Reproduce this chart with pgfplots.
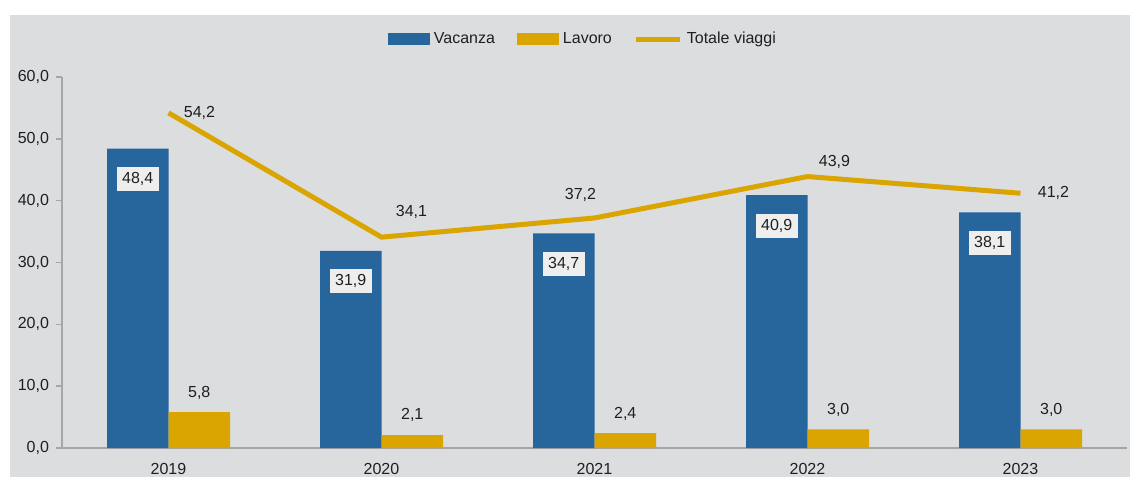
\documentclass[border=0pt]{standalone}
\usepackage{fontspec}
\setmainfont{Liberation Sans}
\usepackage{pgfplots}
\pgfplotsset{compat=1.18}
\usepackage{pgfplotstable}
\definecolor{vac}{HTML}{27659D}
\definecolor{lav}{HTML}{DAA500}
\definecolor{bg}{HTML}{DCDDDF}
\definecolor{axl}{HTML}{A6A6A6}
\definecolor{lbl}{HTML}{EEEEEE}
\definecolor{txt}{HTML}{1F1F1F}

\pgfplotstableread{
x y
0 48.4
1 31.9
2 34.7
3 40.9
4 38.1
}\vacanza
\pgfplotstableread{
x y
0 5.8
1 2.1
2 2.4
3 3.0
4 3.0
}\lavoro
\pgfplotstableread{
x y dx dy
0 54.2 15.5 0
1 34.1 15 12.5
2 37.2 -7 11.5
3 43.9 13.5 7.5
4 41.2 16.5 0
}\totale

\begin{document}
\begin{tikzpicture}[font=\fontsize{8}{9.6}\selectfont, text=txt]
\useasboundingbox (0,0) rectangle (565pt,238.5pt);
\fill[bg] (5pt,0) rectangle (565pt,231pt);
\begin{axis}[
  at={(31pt,14.5pt)}, anchor=south west,
  scale only axis, width=532.5pt, height=185.5pt,
  xmin=-0.5, xmax=4.5, ymin=0, ymax=60,
  axis x line=bottom, axis y line=left,
  axis line style={axl, line width=0.75pt, -},
  xtick={0,1,2,3,4}, xticklabels={2019,2020,2021,2022,2023},
  x tick style={draw=none},
  ytick={0,10,20,30,40,50,60},
  tick align=outside, major tick length=3pt,
  y tick style={axl, line width=0.75pt},
  xticklabel style={yshift=-1pt},
  /pgf/number format/use comma,
  /pgf/number format/fixed,
  /pgf/number format/fixed zerofill,
  /pgf/number format/precision=1,
  /pgf/number format/assume math mode=true,
  legend style={at={(0.49,1)}, anchor=center, yshift=19pt,
    draw=none, fill=none, legend columns=3,
    /tikz/every even column/.append style={column sep=9pt},
    font=\fontsize{8}{9.6}\selectfont},
  clip=false,
]
\addplot[ybar, bar width=30.75pt, bar shift=-15.375pt, fill=vac, draw=none,
  point meta=y, nodes near coords,
  every node near coord/.append style={fill=lbl, anchor=north, xshift=-15.375pt, yshift=-9pt, inner sep=2.75pt, text=txt},
  legend image code/.code={\fill[vac] (0pt,-2.8pt) rectangle (21pt,2.8pt);}]
  table[x=x,y=y] {\vacanza};
\addlegendentry{Vacanza}
\addplot[ybar, bar width=30.75pt, bar shift=15.375pt, fill=lav, draw=none,
  point meta=y, nodes near coords,
  every node near coord/.append style={anchor=south, xshift=15.375pt, yshift=3pt, text=txt},
  legend image code/.code={\fill[lav] (0pt,-2.8pt) rectangle (21pt,2.8pt);}]
  table[x=x,y=y] {\lavoro};
\addlegendentry{Lavoro}
\addplot[sharp plot, lav, line width=2.5pt, mark=none,
  point meta=y, nodes near coords,
  visualization depends on={\thisrow{dx} \as \dx},
  visualization depends on={\thisrow{dy} \as \dy},
  every node near coord/.append style={anchor=center, xshift=\dx pt, yshift=\dy pt, text=txt},
  legend image code/.code={\draw[lav, line width=2.5pt] (0pt,0pt) -- (22pt,0pt);}]
  table[x=x,y=y] {\totale};
\addlegendentry{Totale viaggi}
\end{axis}
\end{tikzpicture}
\end{document}
